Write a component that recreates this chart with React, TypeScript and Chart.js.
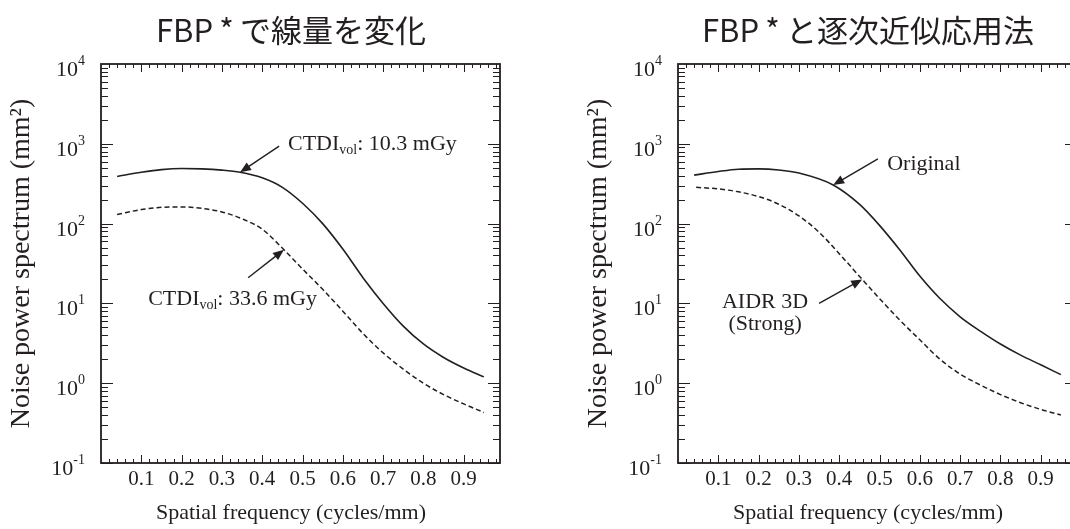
import React, { useEffect, useRef } from "react";
import { Chart, registerables } from "chart.js";
Chart.register(...registerables);

// ---------------- data ----------------
const TITLE_LEFT = "FBP\u2009*\u2009で線量を変化";
const TITLE_RIGHT = "FBP\u2009*\u2009と逐次近似応用法";
const X_TITLE = "Spatial frequency (cycles/mm)";
const Y_TITLE = "Noise power spectrum (mm²)";
const X_TICK_LABELS = ["0.1", "0.2", "0.3", "0.4", "0.5", "0.6", "0.7", "0.8", "0.9"];
const X_TICK_VALUES = [0.1, 0.2, 0.3, 0.4, 0.5, 0.6, 0.7, 0.8, 0.9];
const Y_DECADES = [-1, 0, 1, 2, 3, 4];
const Y_DECADE_LABELS = ["-1", "0", "1", "2", "3", "4"];

// Left panel: CTDIvol 10.3 mGy (solid)
const L_SOLID_X = [0.04, 0.1, 0.15, 0.2, 0.25, 0.3, 0.345, 0.4, 0.45, 0.5, 0.55, 0.6, 0.65, 0.7, 0.75, 0.8, 0.85, 0.9, 0.95];
const L_SOLID_Y = [390, 440, 475, 490, 485, 468, 440, 375, 285, 180, 100, 48, 21, 10, 5.2, 3.1, 2.1, 1.55, 1.2];
// Left panel: CTDIvol 33.6 mGy (dashed)
const L_DASH_X = [0.04, 0.1, 0.15, 0.2, 0.25, 0.3, 0.35, 0.4, 0.454, 0.5, 0.55, 0.6, 0.65, 0.7, 0.75, 0.8, 0.85, 0.9, 0.95];
const L_DASH_Y = [130, 150, 160, 162, 155, 140, 115, 85, 47, 27, 15, 8, 4.2, 2.4, 1.5, 1.0, 0.72, 0.55, 0.43];
// Right panel: Original (solid)
const R_SOLID_X = [0.04, 0.1, 0.15, 0.2, 0.25, 0.3, 0.385, 0.45, 0.5, 0.55, 0.6, 0.65, 0.7, 0.75, 0.8, 0.85, 0.9, 0.95];
const R_SOLID_Y = [405, 450, 480, 485, 470, 430, 305, 175, 95, 47, 22, 11.5, 6.8, 4.5, 3.1, 2.25, 1.7, 1.28];
// Right panel: AIDR 3D (Strong) (dashed)
const R_DASH_X = [0.045, 0.1, 0.15, 0.2, 0.25, 0.3, 0.35, 0.4, 0.457, 0.5, 0.55, 0.6, 0.65, 0.7, 0.75, 0.8, 0.85, 0.9, 0.95];
const R_DASH_Y = [285, 272, 250, 218, 175, 125, 78, 42, 20, 11.5, 6.2, 3.5, 2.0, 1.3, 0.95, 0.72, 0.57, 0.47, 0.40];

const X_MIN = 0;
const X_MAX = 0.99;
const Y_MIN = 0.1;
const Y_MAX = 10000;

type Part = { t: string; sub?: boolean };
type Note = { lines: Part[][]; textX: number; textY: number; align: "left" | "center"; tail: [number, number]; tip: [number, number] };

const LEFT_NOTES: Note[] = [
  { lines: [[{ t: "CTDI" }, { t: "vol", sub: true }, { t: ": 10.3 mGy" }]], textX: 0.464, textY: 1055, align: "left", tail: [0.442, 935], tip: [0.345, 440] },
  { lines: [[{ t: "CTDI" }, { t: "vol", sub: true }, { t: ": 33.6 mGy" }]], textX: 0.117, textY: 12, align: "left", tail: [0.365, 21], tip: [0.454, 47] },
];
const RIGHT_NOTES: Note[] = [
  { lines: [[{ t: "Original" }]], textX: 0.519, textY: 592, align: "left", tail: [0.496, 646], tip: [0.385, 305] },
  { lines: [[{ t: "AIDR 3D" }], [{ t: "(Strong)" }]], textX: 0.216, textY: 11, align: "center", tail: [0.35, 10], tip: [0.457, 20] },
];

const INK = "#231f20";
const SERIF = "'Liberation Serif', 'Times New Roman', serif";
const SANS = "'Noto Sans CJK JP', 'Noto Sans', sans-serif";

function pts(xs: number[], ys: number[]) {
  return xs.map((x, i) => ({ x, y: ys[i] }));
}

function drawParts(ctx: CanvasRenderingContext2D, parts: Part[], x: number, y: number, align: "left" | "center") {
  const big = `22px ${SERIF}`;
  const small = `14px ${SERIF}`;
  let total = 0;
  for (const p of parts) {
    ctx.font = p.sub ? small : big;
    total += ctx.measureText(p.t).width;
  }
  let cx = align === "center" ? x - total / 2 : x;
  ctx.textBaseline = "alphabetic";
  ctx.textAlign = "left";
  for (const p of parts) {
    ctx.font = p.sub ? small : big;
    ctx.fillText(p.t, cx, p.sub ? y + 4 : y);
    cx += ctx.measureText(p.t).width;
  }
}

function makeFramePlugin(title: string, notes: Note[]) {
  return {
    id: "frame",
    afterDatasetsDraw(chart: any) {
      const ctx: CanvasRenderingContext2D = chart.ctx;
      const { left, right, top, bottom } = chart.chartArea;
      const xs = chart.scales.x;
      const ys = chart.scales.y;
      ctx.save();
      ctx.strokeStyle = INK;
      ctx.fillStyle = INK;

      // frame
      ctx.lineWidth = 1.8;
      ctx.strokeRect(left, top, right - left, bottom - top);

      // x ticks (inward, top and bottom)
      ctx.lineWidth = 1;
      for (let i = 1; i * 0.02 < X_MAX; i++) {
        const v = i * 0.02;
        const px = Math.round(xs.getPixelForValue(v)) + 0.5;
        const len = i % 5 === 0 ? 8 : 4;
        ctx.beginPath();
        ctx.moveTo(px, bottom);
        ctx.lineTo(px, bottom - len);
        ctx.moveTo(px, top);
        ctx.lineTo(px, top + len);
        ctx.stroke();
      }
      // y ticks (inward, left and right)
      for (let d = -1; d <= 3; d++) {
        for (let m = 1; m <= 9; m++) {
          const v = m * Math.pow(10, d);
          const py = Math.round(ys.getPixelForValue(v)) + 0.5;
          const len = m === 1 ? 12 : 7;
          ctx.beginPath();
          ctx.moveTo(left, py);
          ctx.lineTo(left + len, py);
          ctx.moveTo(right, py);
          ctx.lineTo(right - len, py);
          ctx.stroke();
        }
      }

      // x tick labels
      ctx.font = `21px ${SERIF}`;
      ctx.textAlign = "center";
      ctx.textBaseline = "middle";
      X_TICK_VALUES.forEach((v, i) => {
        ctx.fillText(X_TICK_LABELS[i], xs.getPixelForValue(v), bottom + 16);
      });

      // y tick labels 10^n
      Y_DECADES.forEach((d, i) => {
        const py = ys.getPixelForValue(Math.pow(10, d));
        const exp = Y_DECADE_LABELS[i];
        ctx.font = `14px ${SERIF}`;
        const ew = ctx.measureText(exp).width;
        const xEnd = left - 16;
        ctx.textAlign = "left";
        ctx.textBaseline = "alphabetic";
        ctx.fillText(exp, xEnd - ew, py + 1);
        ctx.font = `22px ${SERIF}`;
        ctx.textAlign = "right";
        ctx.fillText("10", xEnd - ew, py + 12);
      });

      // axis titles
      ctx.font = `22px ${SERIF}`;
      ctx.textAlign = "center";
      ctx.textBaseline = "middle";
      ctx.fillText(X_TITLE, left + 190, bottom + 50);
      ctx.save();
      ctx.font = `28px ${SERIF}`;
      ctx.translate(left - 79, (top + bottom) / 2);
      ctx.rotate(-Math.PI / 2);
      ctx.fillText(Y_TITLE, 0, 0);
      ctx.restore();

      // chart title
      ctx.font = `31px ${SANS}`;
      ctx.textAlign = "center";
      ctx.textBaseline = "middle";
      ctx.fillText(title, left + 190, 30);

      // annotations
      ctx.lineWidth = 1.4;
      for (const n of notes) {
        const tx = xs.getPixelForValue(n.textX);
        const ty = ys.getPixelForValue(n.textY);
        n.lines.forEach((ln, k) => drawParts(ctx, ln, tx, ty + 8 + k * 22, n.align));
        const ax = xs.getPixelForValue(n.tail[0]);
        const ay = ys.getPixelForValue(n.tail[1]);
        const bx = xs.getPixelForValue(n.tip[0]);
        const by = ys.getPixelForValue(n.tip[1]);
        const ang = Math.atan2(by - ay, bx - ax);
        const hl = 11;
        const hw = 4.5;
        ctx.beginPath();
        ctx.moveTo(ax, ay);
        ctx.lineTo(bx - Math.cos(ang) * hl * 0.8, by - Math.sin(ang) * hl * 0.8);
        ctx.stroke();
        ctx.beginPath();
        ctx.moveTo(bx, by);
        ctx.lineTo(bx - Math.cos(ang) * hl - Math.sin(ang) * hw, by - Math.sin(ang) * hl + Math.cos(ang) * hw);
        ctx.lineTo(bx - Math.cos(ang) * hl + Math.sin(ang) * hw, by - Math.sin(ang) * hl - Math.cos(ang) * hw);
        ctx.closePath();
        ctx.fill();
      }
      ctx.restore();
    },
  };
}

function Panel(props: {
  left: number;
  width: number;
  padLeft: number;
  padRight: number;
  title: string;
  notes: Note[];
  solid: { x: number; y: number }[];
  dashed: { x: number; y: number }[];
}) {
  const ref = useRef<HTMLCanvasElement | null>(null);
  useEffect(() => {
    if (!ref.current) return;
    const chart = new Chart(ref.current, {
      type: "line",
      data: {
        datasets: [
          {
            data: props.solid,
            borderColor: INK,
            borderWidth: 1.6,
            pointRadius: 0,
            cubicInterpolationMode: "monotone",
            fill: false,
          },
          {
            data: props.dashed,
            borderColor: INK,
            borderWidth: 1.5,
            borderDash: [5, 3],
            pointRadius: 0,
            cubicInterpolationMode: "monotone",
            fill: false,
          },
        ],
      },
      options: {
        responsive: false,
        animation: false,
        layout: { padding: { left: props.padLeft, right: props.padRight, top: 64, bottom: 66 } },
        scales: {
          x: { type: "linear", min: X_MIN, max: X_MAX, display: false },
          y: { type: "logarithmic", min: Y_MIN, max: Y_MAX, display: false },
        },
        plugins: { legend: { display: false }, tooltip: { enabled: false }, title: { display: false } },
      },
      plugins: [makeFramePlugin(props.title, props.notes)],
    } as any);
    return () => chart.destroy();
  }, []);
  return (
    <canvas
      ref={ref}
      width={props.width}
      height={529}
      style={{ position: "absolute", left: props.left, top: 0, width: props.width, height: 529 }}
    />
  );
}

export default function App() {
  return (
    <div style={{ position: "fixed", left: 0, top: 0, width: 1070, height: 529, overflow: "hidden", background: "#fff" }}>
      <Panel
        left={0}
        width={535}
        padLeft={101}
        padRight={35}
        title={TITLE_LEFT}
        notes={LEFT_NOTES}
        solid={pts(L_SOLID_X, L_SOLID_Y)}
        dashed={pts(L_DASH_X, L_DASH_Y)}
      />
      <Panel
        left={535}
        width={545}
        padLeft={143}
        padRight={3}
        title={TITLE_RIGHT}
        notes={RIGHT_NOTES}
        solid={pts(R_SOLID_X, R_SOLID_Y)}
        dashed={pts(R_DASH_X, R_DASH_Y)}
      />
    </div>
  );
}
